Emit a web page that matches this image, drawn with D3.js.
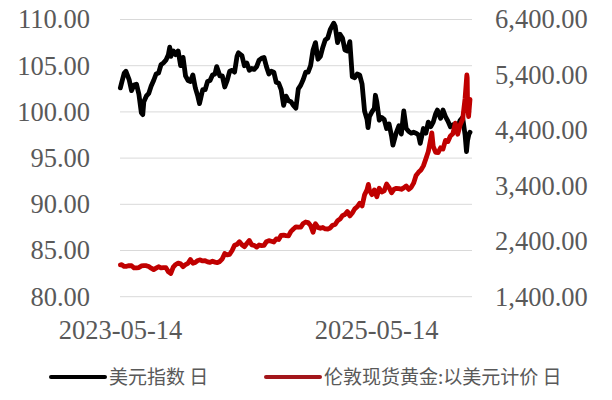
<!DOCTYPE html>
<html>
<head>
<meta charset="utf-8">
<script src="https://cdn.jsdelivr.net/npm/d3@7/dist/d3.min.js"></script>
<style>
  html, body { margin: 0; padding: 0; background: #fff; }
  svg { display: block; }
</style>
</head>
<body>
<svg id="chart" width="612" height="400"></svg>
<script>
// ---------- DATA ----------
const seriesNames = ["美元指数 日", "伦敦现货黄金:以美元计价 日"];
const xTickLabels = ["2023-05-14", "2025-05-14"];
const xDomain = ["2023-05-14", "2026-02-06"];
const leftTicks = [80, 85, 90, 95, 100, 105, 110];
const rightTicks = [1400, 2400, 3400, 4400, 5400, 6400];

const dxySeries = [
["2023-05-15",102.6],["2023-05-19",103.2],["2023-05-26",104.2],["2023-05-31",104.4],["2023-06-09",103.5],
["2023-06-16",102.3],["2023-06-23",102.9],["2023-06-30",103.0],["2023-07-07",101.9],["2023-07-14",99.9],
["2023-07-18",99.7],["2023-07-21",101.1],["2023-07-28",101.7],["2023-08-04",102.0],["2023-08-11",102.8],
["2023-08-18",103.4],["2023-08-25",104.1],["2023-09-01",104.2],["2023-09-08",105.1],["2023-09-15",105.3],
["2023-09-22",105.6],["2023-09-29",106.2],["2023-10-03",107.0],["2023-10-06",106.0],["2023-10-13",106.6],
["2023-10-20",106.2],["2023-10-27",106.6],["2023-11-03",105.0],["2023-11-10",105.9],["2023-11-17",103.9],
["2023-11-24",103.4],["2023-12-01",103.3],["2023-12-08",104.0],["2023-12-15",102.6],["2023-12-22",101.7],
["2023-12-27",100.9],["2024-01-05",102.4],["2024-01-12",102.4],["2024-01-19",103.3],["2024-01-26",103.4],
["2024-02-02",104.0],["2024-02-09",104.1],["2024-02-14",104.9],["2024-02-23",103.9],["2024-03-01",103.9],
["2024-03-08",102.7],["2024-03-15",103.4],["2024-03-22",104.4],["2024-03-29",104.5],["2024-04-05",104.3],
["2024-04-12",106.0],["2024-04-16",106.4],["2024-04-26",106.1],["2024-05-03",105.0],["2024-05-10",105.3],
["2024-05-17",104.5],["2024-05-24",104.7],["2024-05-31",104.6],["2024-06-07",104.9],["2024-06-14",105.6],
["2024-06-21",105.8],["2024-06-28",105.9],["2024-07-05",104.9],["2024-07-12",104.1],["2024-07-19",104.4],
["2024-07-26",104.3],["2024-08-02",103.2],["2024-08-09",103.1],["2024-08-16",102.4],["2024-08-23",100.7],
["2024-08-30",101.7],["2024-09-06",101.2],["2024-09-13",101.1],["2024-09-20",100.7],["2024-09-27",100.4],
["2024-10-04",102.5],["2024-10-11",102.9],["2024-10-18",103.5],["2024-10-25",104.3],["2024-11-01",104.3],
["2024-11-08",105.0],["2024-11-15",106.7],["2024-11-22",107.5],["2024-11-29",105.7],["2024-12-06",106.0],
["2024-12-13",107.0],["2024-12-20",107.8],["2024-12-27",108.0],["2025-01-03",108.9],["2025-01-13",109.6],
["2025-01-17",109.3],["2025-01-24",107.5],["2025-01-31",108.4],["2025-02-07",108.0],["2025-02-14",106.7],
["2025-02-21",106.6],["2025-02-28",107.6],["2025-03-07",103.8],["2025-03-14",103.7],["2025-03-21",104.1],
["2025-03-28",104.0],["2025-04-04",103.0],["2025-04-11",100.1],["2025-04-18",99.2],["2025-04-21",98.3],
["2025-04-25",99.5],["2025-05-02",100.0],["2025-05-09",100.4],["2025-05-12",101.8],["2025-05-16",101.1],
["2025-05-23",99.1],["2025-05-30",99.4],["2025-06-06",99.2],["2025-06-13",98.2],["2025-06-20",98.7],
["2025-06-27",97.4],["2025-07-01",96.4],["2025-07-11",97.8],["2025-07-18",98.5],["2025-07-25",97.6],
["2025-08-01",100.1],["2025-08-08",98.2],["2025-08-15",97.9],["2025-08-22",97.7],["2025-08-29",97.8],
["2025-09-05",97.7],["2025-09-12",97.5],["2025-09-17",96.6],["2025-09-26",98.2],["2025-10-03",97.7],
["2025-10-10",98.9],["2025-10-17",98.4],["2025-10-24",98.9],["2025-10-31",99.8],["2025-11-05",100.2],
["2025-11-14",99.3],["2025-11-21",100.2],["2025-11-28",99.5],["2025-12-05",99.0],["2025-12-12",98.4],
["2025-12-19",98.6],["2025-12-26",98.0],["2026-01-02",98.4],["2026-01-09",99.1],["2026-01-16",99.4],
["2026-01-23",97.5],["2026-01-27",95.7],["2026-01-30",96.9],["2026-02-03",97.6],["2026-02-06",97.8]
];

const goldSeries = [
["2023-05-15",1975],["2023-05-19",1977],["2023-05-26",1946],["2023-06-02",1948],["2023-06-09",1961],
["2023-06-16",1958],["2023-06-23",1921],["2023-06-30",1919],["2023-07-07",1925],["2023-07-14",1955],
["2023-07-21",1962],["2023-07-28",1959],["2023-08-04",1943],["2023-08-11",1914],["2023-08-18",1889],
["2023-08-25",1915],["2023-09-01",1940],["2023-09-08",1919],["2023-09-15",1924],["2023-09-22",1925],
["2023-09-29",1849],["2023-10-06",1820],["2023-10-13",1933],["2023-10-20",1981],["2023-10-27",2006],
["2023-11-03",1992],["2023-11-10",1940],["2023-11-17",1980],["2023-11-24",2002],["2023-12-01",2072],
["2023-12-08",2004],["2023-12-15",2019],["2023-12-22",2053],["2023-12-29",2063],["2024-01-05",2045],
["2024-01-12",2049],["2024-01-19",2029],["2024-01-26",2018],["2024-02-02",2039],["2024-02-09",2024],
["2024-02-16",2013],["2024-02-23",2035],["2024-03-01",2083],["2024-03-08",2179],["2024-03-15",2155],
["2024-03-22",2165],["2024-03-29",2233],["2024-04-05",2329],["2024-04-12",2344],["2024-04-19",2392],
["2024-04-26",2337],["2024-05-03",2302],["2024-05-10",2360],["2024-05-17",2415],["2024-05-24",2334],
["2024-05-31",2327],["2024-06-07",2294],["2024-06-14",2333],["2024-06-21",2322],["2024-06-28",2326],
["2024-07-05",2392],["2024-07-12",2411],["2024-07-19",2400],["2024-07-26",2387],["2024-08-02",2443],
["2024-08-09",2431],["2024-08-16",2507],["2024-08-23",2512],["2024-08-30",2503],["2024-09-06",2497],
["2024-09-13",2578],["2024-09-20",2621],["2024-09-27",2658],["2024-10-04",2653],["2024-10-11",2657],
["2024-10-18",2721],["2024-10-25",2747],["2024-11-01",2737],["2024-11-08",2685],["2024-11-15",2563],
["2024-11-22",2716],["2024-11-29",2650],["2024-12-06",2633],["2024-12-13",2648],["2024-12-20",2622],
["2024-12-27",2621],["2025-01-03",2640],["2025-01-10",2690],["2025-01-17",2703],["2025-01-24",2771],
["2025-01-31",2800],["2025-02-07",2861],["2025-02-14",2882],["2025-02-21",2936],["2025-02-28",2858],
["2025-03-07",2910],["2025-03-14",2984],["2025-03-21",3022],["2025-03-28",3084],["2025-04-04",3037],
["2025-04-11",3237],["2025-04-18",3327],["2025-04-22",3425],["2025-04-25",3319],["2025-05-02",3240],
["2025-05-09",3325],["2025-05-16",3202],["2025-05-23",3357],["2025-05-30",3289],["2025-06-06",3310],
["2025-06-13",3432],["2025-06-20",3368],["2025-06-27",3274],["2025-07-04",3337],["2025-07-11",3355],
["2025-07-18",3350],["2025-07-25",3337],["2025-08-01",3363],["2025-08-08",3398],["2025-08-15",3336],
["2025-08-22",3371],["2025-08-29",3448],["2025-09-05",3586],["2025-09-12",3643],["2025-09-19",3685],
["2025-09-26",3760],["2025-10-03",3886],["2025-10-10",4018],["2025-10-17",4250],["2025-10-20",4356],
["2025-10-24",4112],["2025-10-31",4002],["2025-11-07",4000],["2025-11-14",4085],["2025-11-21",4065],
["2025-11-28",4220],["2025-12-05",4200],["2025-12-12",4300],["2025-12-19",4340],["2025-12-26",4530],
["2026-01-02",4330],["2026-01-09",4500],["2026-01-16",4600],["2026-01-23",4980],["2026-01-28",5400],
["2026-01-29",5350],["2026-01-30",4900],["2026-02-02",4650],["2026-02-06",4960]
];

// ---------- CHART ----------
const parse = d3.timeParse("%Y-%m-%d");
const dxy = dxySeries.map(d => ({date: parse(d[0]), v: d[1]}));
const gold = goldSeries.map(d => ({date: parse(d[0]), v: d[1]}));

const svg = d3.select("#chart");
const plot = {left: 120, right: 472, top: 19.5, bottom: 296.7};

const x = d3.scaleTime()
  .domain(xDomain.map(parse))
  .range([plot.left, 470]);
const yL = d3.scaleLinear().domain([80, 110]).range([plot.bottom, plot.top]);
const yR = d3.scaleLinear().domain([1400, 6400]).range([plot.bottom, plot.top]);

const tickFont = "'Liberation Serif', 'Times New Roman', serif";
const tickSize = 26.5;
const grey = "#595959";

// gridlines
svg.append("g").selectAll("line").data(leftTicks).join("line")
  .attr("x1", plot.left).attr("x2", plot.right)
  .attr("y1", d => yL(d)).attr("y2", d => yL(d))
  .attr("stroke", "#d9d9d9").attr("stroke-width", 1);

// left axis
const gL = svg.append("g").attr("transform", `translate(${plot.left},0)`)
  .call(d3.axisLeft(yL).tickValues(leftTicks).tickSize(0).tickPadding(30).tickFormat(d3.format(".2f")));
gL.select(".domain").remove();
gL.selectAll("text").attr("font-family", tickFont).attr("font-size", tickSize).attr("fill", grey);

// right axis
const gR = svg.append("g").attr("transform", `translate(${plot.right},0)`)
  .call(d3.axisRight(yR).tickValues(rightTicks).tickSize(0).tickPadding(23).tickFormat(d3.format(",.2f")));
gR.select(".domain").remove();
gR.selectAll("text").attr("font-family", tickFont).attr("font-size", tickSize).attr("fill", grey);

// x axis labels
const fmt = d3.timeFormat("%Y-%m-%d");
const gX = svg.append("g").attr("transform", `translate(0,${plot.bottom})`)
  .call(d3.axisBottom(x).tickValues(xTickLabels.map(parse)).tickSize(0).tickPadding(23).tickFormat(fmt));
gX.select(".domain").remove();
gX.selectAll("text").attr("font-family", tickFont).attr("font-size", tickSize).attr("fill", grey);

// lines
const lineL = d3.line().x(d => x(d.date)).y(d => yL(d.v));
const lineR = d3.line().x(d => x(d.date)).y(d => yR(d.v));
svg.append("path").datum(dxy).attr("d", lineL)
  .attr("fill", "none").attr("stroke", "#000").attr("stroke-width", 4.8)
  .attr("stroke-linejoin", "round").attr("stroke-linecap", "round");
svg.append("path").datum(gold).attr("d", lineR)
  .attr("fill", "none").attr("stroke", "#c00000").attr("stroke-width", 4.8)
  .attr("stroke-linejoin", "round").attr("stroke-linecap", "round");

// legend
const legendColors = ["#000", "#a3161b"];
const legendX = [51, 266];
const lg = svg.append("g");
seriesNames.forEach((name, i) => {
  lg.append("line").attr("x1", legendX[i]).attr("x2", legendX[i] + 54)
    .attr("y1", 377).attr("y2", 377)
    .attr("stroke", legendColors[i]).attr("stroke-width", 4).attr("stroke-linecap", "round");
  lg.append("text").attr("x", legendX[i] + 58).attr("y", 377).attr("dy", "0.36em")
    .attr("font-family", "'Noto Sans CJK SC', sans-serif").attr("font-size", 19).attr("fill", grey)
    .text(name);
});
</script>
</body>
</html>
